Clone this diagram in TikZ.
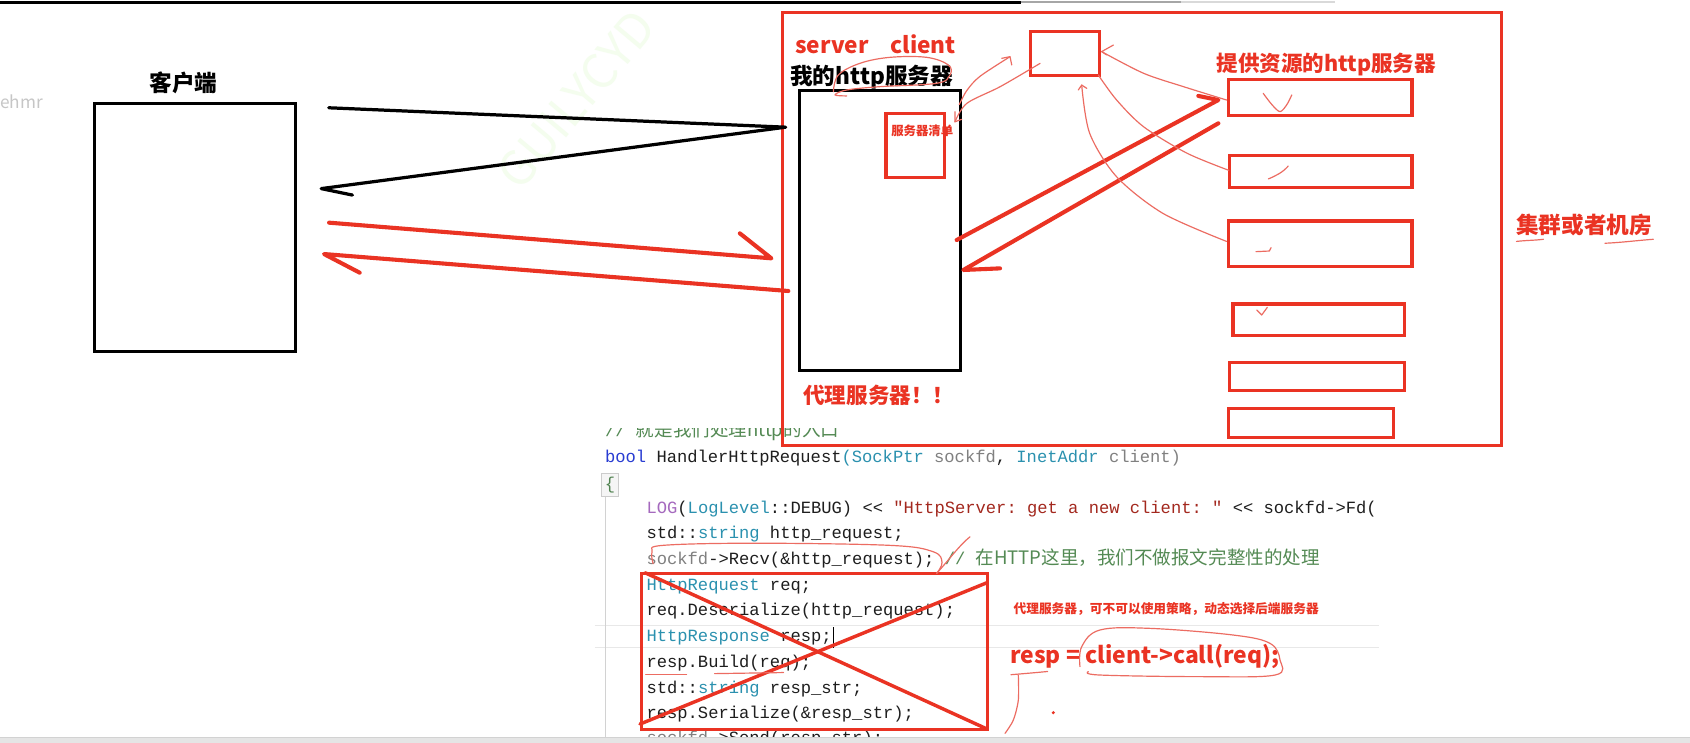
\documentclass[tikz,border=0pt]{standalone}
\usepackage{fontspec}
\setmainfont{Noto Sans CJK SC}
\setmonofont{Liberation Mono}
\newfontfamily\cjk{Noto Sans CJK SC}
\usetikzlibrary{fit,arrows.meta}
\definecolor{pred}{RGB}{234,51,35}
\definecolor{pthin}{RGB}{236,108,98}
\definecolor{kw}{RGB}{40,60,210}
\definecolor{ty}{RGB}{43,145,175}
\definecolor{cm}{RGB}{84,138,84}
\definecolor{strc}{RGB}{163,40,30}
\definecolor{prm}{RGB}{128,128,128}
\definecolor{mac}{RGB}{165,105,190}
\definecolor{txt}{RGB}{30,30,30}
\definecolor{wmark}{RGB}{244,253,238}
\begin{document}
\begin{tikzpicture}[x=0.5pt,y=-0.5pt,
  blk/.style={draw=black, line width=1.5pt, inner sep=0pt},
  rbox/.style={draw=pred, line width=1.5pt, inner sep=0pt},
  thickred/.style={draw=pred, line width=1.9pt, line cap=round, line join=round},
  thickblk/.style={draw=black, line width=1.5pt, line cap=round, line join=round},
  pen/.style={draw=pthin, line width=0.55pt, line cap=round, line join=round},
  lbl/.style={inner sep=0pt, font=\bfseries\fontsize{10.5}{12}\selectfont},
  code/.style={anchor=base west, inner sep=0pt, font=\ttfamily\fontsize{7.95}{9}\selectfont, text=txt},
]
\useasboundingbox (0,0) rectangle (1568,689);
\fill[white] (0,0) rectangle (1568,689);

% top line
\draw[black, line width=1.5pt] (0,2.5) -- (947,2.5);
\draw[gray!70, line width=1.2pt] (947,2) -- (1096,2);
\draw[gray!30, line width=1pt] (1096,1.5) -- (1239,1.5);

% faint leftovers
\node[anchor=west, inner sep=0pt, text=gray!45, font=\fontsize{8}{9}\selectfont] (ehmr) at (0,94) {ehmr};
\node[rotate=50, text=wmark, font=\fontsize{22}{24}\selectfont] (wm) at (535,92) {GUILYCYD};

% ---------- code ----------
\draw[gray!18, line width=0.5pt] (552,580) -- (1279,580);
\draw[gray!18, line width=0.5pt] (552,601) -- (1279,601);
\draw[gray!35, line width=0.6pt] (561.5,461) -- (561.5,689);
\begin{scope}
\clip (540,398) rectangle (1280,684);
\node[code, text=cm] (c0) at (561,405) {//\ {\cjk\fontsize{8.6}{10}\selectfont 就是我们处理http的入口}};
\node[code] (c1) at (561,429) {\textcolor{kw}{bool} HandlerHttpRequest\textcolor{ty}{(SockPtr} \textcolor{prm}{sockfd}, \textcolor{ty}{InetAddr} \textcolor{prm}{client)}};
\node[draw=gray!40, fill=gray!8, line width=0.4pt, inner sep=1.5pt, font=\ttfamily\fontsize{7.95}{9}\selectfont, text={rgb,255:red,80;green,130;blue,80}] (brace) at (566,450) {\{};
\node[code] (c2) at (599.5,476) {\textcolor{mac}{LOG}(\textcolor{ty}{LogLevel}::DEBUG) << \textcolor{strc}{"HttpServer: get a new client: "} << sockfd->Fd(};
\node[code] (c3) at (599.5,500) {std::\textcolor{ty}{string} http\_request;};
\node[code] (c4) at (599.5,524) {\textcolor{prm}{sockfd}->Recv(\&http\_request); \textcolor{cm}{// {\cjk\fontsize{8.6}{10}\selectfont 在HTTP这里，我们不做报文完整性的处理}}};
\node[code] (c5) at (599.5,548) {\textcolor{ty}{HttpRequest} req;};
\node[code] (c6) at (599.5,571) {req.Deserialize(http\_request);};
\node[code] (c7) at (599.5,595) {\textcolor{ty}{HttpResponse} resp;};
\node[code] (c8) at (599.5,619) {resp.Build(req);};
\node[code] (c9) at (599.5,643) {std::\textcolor{ty}{string} resp\_str;};
\node[code] (c10) at (599.5,667) {resp.Serialize(\&resp\_str);};
\node[code] (c11) at (599.5,690) {\textcolor{prm}{sockfd}->Send(resp\_str);};
\end{scope}
\draw[black, line width=0.6pt] (773,582) -- (773,601);

% X box over code
\node[rbox, fit={(595,532) (916,677)}] (xbox) {};
\draw[thickred, line width=1.6pt] (598.5,531.4) -- (915.8,676.4);
\draw[thickred, line width=1.6pt] (915.8,540.6) -- (593.8,671.8);

% pen marks in code
\draw[pen] plot[smooth, tension=0.6] coordinates {(606,523) (605,512) (615,506) (700,504) (826,506) (866,512) (874,522) (869,532)};
\draw[pen] (869,532) .. controls (880,520) and (890,506) .. (900,498);
\draw[pen] (599,626) -- (637,626);
\draw[pen] (663,625) -- (727,624);

% red notes in code
\node[anchor=west, inner sep=0pt, text=pred, font=\bfseries\fontsize{5.9}{7}\selectfont] (note) at (940,565) {代理服务器，可不可以使用策略，动态选择后端服务器};
\node[anchor=base west, inner sep=0pt, text=pred, font=\bfseries\fontsize{10.6}{13}\selectfont] (call) at (937,616) {resp = client->call(req);};
\draw[pen] plot[smooth, tension=0.6] coordinates {(1002,618.5) (1003.6,600) (1020.6,584.5) (1067,583) (1144.3,589.2) (1178.3,596.9) (1187.6,612.4) (1183,626.3) (1113.4,627.8) (1020.6,626.3) (1009.8,623.2)};
\draw[pen] (938,626) .. controls (950,625) and (962,624) .. (972,623);
\draw[pen] plot[smooth] coordinates {(944.8,626.3) (944.8,649.5) (940.2,668) (932.5,680.4)};
\fill[pred] (977.3,661.2) circle (1.6);

% bottom bar
\fill[gray!20] (0,684) rectangle (1568,689);
\draw[gray!35, line width=0.5pt] (0,684) -- (1568,684);

% ---------- left: client ----------
\node[lbl] (clientlbl) at (170.4,77.3) {客户端};
\node[blk, fit={(88,96) (274,326)}] (client) {};

% ---------- cluster ----------
\node[draw=pred, line width=1.4pt, inner sep=0pt, fit={(726,12) (1393,413)}] (cluster) {};
\node[lbl, anchor=base west, text=pred] (srv) at (737.6,49.5) {server};
\node[lbl, anchor=base west, text=pred] (cli) at (825.8,49.5) {client};
\node[lbl] (mylbl) at (808.7,72) {我的http服务器};
\node[blk, fit={(742,84) (891,344)}] (proxy) {};
\node[rbox, fit={(822,105) (876,165)}] (list) {};
\node[inner sep=0pt, text=pred, font=\bfseries\fontsize{5.75}{7}\selectfont] (listlbl) at (855.7,121.5) {服务器清单};
\node[rbox, fit={(956,29) (1020,70)}] (topbox) {};
\node[lbl, text=pred, font=\bfseries\fontsize{10}{12}\selectfont] (reslbl) at (1230.5,60.3) {提供资源的http服务器};
\node[rbox, fit={(1140,74) (1310,107)}] (ba) {};
\node[rbox, fit={(1141,144) (1310,174)}] (bb) {};
\node[rbox, fit={(1140,205) (1310,247)}] (bc) {};
\node[rbox, fit={(1144,282) (1303,311)}] (bd) {};
\node[rbox, fit={(1141,336) (1303,362)}] (be) {};
\node[rbox, fit={(1140,379) (1293,406)}] (bf) {};
\node[lbl, text=pred, font=\bfseries\fontsize{10}{12}\selectfont, anchor=west] (proxylbl) at (745,367) {代理服务器！！};
\node[lbl, text=pred] (cluslbl) at (1469.8,208.8) {集群或者机房};
\draw[pen] (1407,224) .. controls (1415,223) and (1425,223) .. (1432,222);
\draw[pen] (1489,225.7) .. controls (1505,225) and (1520,223) .. (1534,222);

% ticks in boxes
\draw[pen] plot[smooth] coordinates {(1172,86.6) (1180,97) (1187.6,103.6) (1194,97) (1198.5,88.1)};
\draw[pen] (1176.8,166) .. controls (1184,163) and (1190,160) .. (1195.3,154);
\draw[pen] (1165.3,233.5) -- (1177.7,232.9) -- (1179.3,229.8);
\draw[pen] (1166,287.6) -- (1170.6,292.3) -- (1175.8,285.2);

% loop around http
\draw[pen] plot[smooth, tension=0.6] coordinates {(773.2,85.1) (777.8,69.6) (798,58.7) (825.8,53.2) (859.8,53.2) (879.9,60.3) (881.4,69.6) (869,77.3) (816.5,80.4) (785.6,83.5) (774.7,88.1) (785.6,89)};

% ---------- black arrows ----------
\coordinate (k1) at (305,100);
\coordinate (k2) at (729,118);
\coordinate (k3) at (298,175);
\draw[thickblk] (k1) -- (k2) -- (k3) -- (327,181);

% ---------- red arrows client <-> proxy ----------
\coordinate (r1) at (305.3,206.6);
\coordinate (r2) at (715.7,239.7);
\draw[thickred] (r1) -- (r2) -- (686.4,216.5);
\coordinate (r3) at (731.4,270);
\coordinate (r4) at (300.6,235.7);
\draw[thickred] (r3) -- (r4) -- (333.7,253);

% ---------- big diagonal arrows ----------
\coordinate (d1) at (887.6,222.7);
\coordinate (d2) at (1130.4,92.8);
\draw[thickred] (d1) -- (d2) -- (1111.8,89);
\coordinate (d3) at (1130.4,114.4);
\coordinate (d4) at (893.8,250.5);
\draw[thickred] (d3) -- (d4) -- (927.8,249);

% ---------- thin pen arrows ----------
\draw[pen] plot[smooth] coordinates {(890,97) (897,84) (909,71) (937.1,52.6)};
\draw[pen] (929.4,54.1) -- (937.1,52.6) -- (938.7,60.3);
\draw[pen] plot[smooth] coordinates {(965,58.8) (928,80.4) (897,95.9) (886,113)};
\draw[pen] (886,103.6) -- (886,113) -- (892.3,110.7);
\draw[pen] plot[smooth] coordinates {(1138,92.8) (1098,80.4) (1061,68) (1022.1,47.9)};
\draw[pen] (1033,41.8) -- (1022.1,47.9) -- (1026.8,51);
\draw[pen] plot[smooth] coordinates {(1140,158) (1101,142) (1061,117.6) (1036,92.8) (1019,69.6)};
\draw[pen] plot[smooth] coordinates {(1138,224) (1079,198) (1036,164) (1011,123.7) (1003.6,78.9)};
\draw[pen] (1000.5,83.5) -- (1003.6,78.9) -- (1008.3,82);
\end{tikzpicture}
\end{document}
